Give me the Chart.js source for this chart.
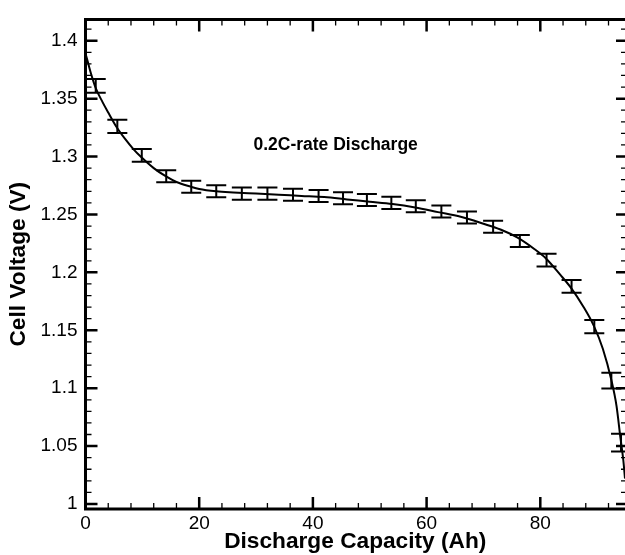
<!DOCTYPE html>
<html><head><meta charset="utf-8">
<script src="https://cdn.jsdelivr.net/npm/chart.js@4/dist/chart.umd.min.js"></script>
<style>html,body{margin:0;padding:0;background:#fff;overflow:hidden;}canvas{display:block;}</style>
</head><body>
<canvas id="c" width="625" height="555"></canvas>
<script>
// fitted discharge curve
const curveX = [0, 0.5, 1, 1.8, 3, 4, 5.4, 7, 8.5, 9.7, 12, 14.1, 16, 18.5, 20, 23, 26, 30, 34, 38, 42, 46, 50, 54, 58, 62, 66, 70, 73, 76, 79, 81, 83.5, 85.5, 87.5, 89.4, 91, 92.5, 93.4, 94.1, 94.6, 94.9];
const curveY = [1.389, 1.380, 1.371, 1.359, 1.347, 1.338, 1.326, 1.315, 1.306, 1.300, 1.290, 1.283, 1.278, 1.274, 1.272, 1.270, 1.269, 1.268, 1.267, 1.266, 1.265, 1.263, 1.261, 1.259, 1.256, 1.252, 1.248, 1.242, 1.237, 1.230, 1.220, 1.212, 1.198, 1.186, 1.171, 1.154, 1.134, 1.107, 1.085, 1.057, 1.038, 1.022];
// measured points with error bars
const barX = [1.8, 5.6, 9.9, 14.2, 18.6, 23.0, 27.5, 32.0, 36.5, 41.0, 45.3, 49.5, 53.8, 58.1, 62.6, 67.1, 71.7, 76.4, 81.1, 85.5, 89.5, 92.5, 94.2];
const barY = [1.361, 1.326, 1.301, 1.283, 1.274, 1.270, 1.268, 1.268, 1.267, 1.266, 1.264, 1.2625, 1.260, 1.257, 1.2526, 1.2474, 1.2394, 1.227, 1.2106, 1.188, 1.1531, 1.1066, 1.053];
const barErr = [0.006, 0.0057, 0.0055, 0.0052, 0.0052, 0.0052, 0.0052, 0.0052, 0.0052, 0.0052, 0.0052, 0.0052, 0.0052, 0.0052, 0.0052, 0.0052, 0.0052, 0.0052, 0.0055, 0.0055, 0.0057, 0.0068, 0.0077];
// axes
const xTickValues = [0, 20, 40, 60, 80];
const xTickLabels = ['0', '20', '40', '60', '80'];
const yTickValues = [1, 1.05, 1.1, 1.15, 1.2, 1.25, 1.3, 1.35, 1.4];
const yTickLabels = ['1', '1.05', '1.1', '1.15', '1.2', '1.25', '1.3', '1.35', '1.4'];
const xMinorTicks = [4, 8, 12, 16, 24, 28, 32, 36, 44, 48, 52, 56, 64, 68, 72, 76, 84, 88, 92];
const yMinorTicks = [1.01, 1.02, 1.03, 1.04, 1.06, 1.07, 1.08, 1.09, 1.11, 1.12, 1.13, 1.14, 1.16, 1.17, 1.18, 1.19, 1.21, 1.22, 1.23, 1.24, 1.26, 1.27, 1.28, 1.29, 1.31, 1.32, 1.33, 1.34, 1.36, 1.37, 1.38, 1.39, 1.41];
const xRange = [0, 94.9];
const yRange = [0.9957, 1.4184];
const annotation = {text: '0.2C-rate Discharge', x: 44, y: 1.31};
const FONT = "'Liberation Sans', Arial, Helvetica, sans-serif";

const framePlugin = {
  id: 'frame',
  afterDatasetsDraw(chart) {
    const ctx = chart.ctx, a = chart.chartArea;
    const xs = chart.scales.x, ys = chart.scales.y;
    ctx.save();
    ctx.strokeStyle = '#000';
    // error bars
    ctx.lineWidth = 2;
    const cap = 10;
    for (let i = 0; i < barX.length; i++) {
      const px = xs.getPixelForValue(barX[i]);
      const pt = ys.getPixelForValue(barY[i] + barErr[i]);
      const pb = ys.getPixelForValue(barY[i] - barErr[i]);
      ctx.beginPath();
      ctx.moveTo(px, pt); ctx.lineTo(px, pb);
      ctx.moveTo(px - cap, pt); ctx.lineTo(px + cap, pt);
      ctx.moveTo(px - cap, pb); ctx.lineTo(px + cap, pb);
      ctx.stroke();
    }
    // frame
    ctx.lineWidth = 3;
    ctx.beginPath();
    ctx.moveTo(a.left, a.bottom); ctx.lineTo(a.left, a.top); ctx.lineTo(a.right + 3, a.top);
    ctx.moveTo(a.left - 1.5, a.bottom); ctx.lineTo(a.right + 3, a.bottom);
    ctx.stroke();
    // major ticks
    ctx.lineWidth = 2.5;
    ctx.beginPath();
    xTickValues.forEach(v => {
      const p = xs.getPixelForValue(v);
      ctx.moveTo(p, a.bottom); ctx.lineTo(p, a.bottom - 12);
      ctx.moveTo(p, a.top); ctx.lineTo(p, a.top + 12);
    });
    yTickValues.forEach(v => {
      const p = ys.getPixelForValue(v);
      ctx.moveTo(a.left, p); ctx.lineTo(a.left + 12, p);
      ctx.moveTo(a.right, p); ctx.lineTo(a.right - 9, p);
    });
    ctx.stroke();
    // minor ticks
    ctx.lineWidth = 1.3;
    ctx.beginPath();
    xMinorTicks.forEach(v => {
      const p = xs.getPixelForValue(v);
      ctx.moveTo(p, a.bottom); ctx.lineTo(p, a.bottom - 6);
      ctx.moveTo(p, a.top); ctx.lineTo(p, a.top + 6);
    });
    yMinorTicks.forEach(v => {
      const p = ys.getPixelForValue(v);
      ctx.moveTo(a.left, p); ctx.lineTo(a.left + 6, p);
      ctx.moveTo(a.right, p); ctx.lineTo(a.right - 4, p);
    });
    ctx.stroke();
    // annotation
    ctx.fillStyle = '#000';
    ctx.font = 'bold 17.5px ' + FONT;
    ctx.textAlign = 'center';
    ctx.textBaseline = 'middle';
    ctx.fillText(annotation.text, xs.getPixelForValue(annotation.x), ys.getPixelForValue(annotation.y));
    ctx.restore();
  }
};

new Chart(document.getElementById('c'), {
  type: 'scatter',
  data: {
    datasets: [{
      type: 'line',
      data: curveX.map((x, i) => ({x, y: curveY[i]})),
      borderColor: '#000',
      borderWidth: 2,
      pointRadius: 0,
      fill: false,
      cubicInterpolationMode: 'monotone'
    }, {
      data: barX.map((x, i) => ({x, y: barY[i]})),
      pointRadius: 0,
      showLine: false
    }]
  },
  options: {
    responsive: false,
    animation: false,
    devicePixelRatio: 1,
    layout: {padding: {top: 12, right: 0, left: 0, bottom: 0}},
    plugins: {legend: {display: false}, tooltip: {enabled: false}},
    scales: {
      x: {
        type: 'linear', min: xRange[0], max: xRange[1],
        grid: {display: false, drawTicks: false},
        border: {display: false},
        afterBuildTicks: s => { s.ticks = xTickValues.map(v => ({value: v})); },
        afterFit: s => { s.height = 46; },
        ticks: {
          autoSkip: false, maxRotation: 0, padding: 3, color: '#000',
          font: {family: FONT, size: 19},
          callback: (v, i) => xTickLabels[i]
        },
        title: {display: true, text: 'Discharge Capacity (Ah)', color: '#000',
          font: {family: FONT, size: 22.7, weight: 'bold'}, padding: {top: 0, bottom: 0}}
      },
      y: {
        type: 'linear', min: yRange[0], max: yRange[1],
        grid: {display: false, drawTicks: false},
        border: {display: false},
        afterBuildTicks: s => { s.ticks = yTickValues.map(v => ({value: v})); },
        afterFit: s => { s.width = 85.5; },
        ticks: {
          autoSkip: false, padding: 8, color: '#000',
          font: {family: FONT, size: 19},
          callback: (v, i) => yTickLabels[i]
        },
        title: {display: true, text: 'Cell Voltage (V)', color: '#000',
          font: {family: FONT, size: 22.7, weight: 'bold'}, padding: {top: 5, bottom: 0}}
      }
    }
  },
  plugins: [framePlugin]
});
</script>
</body></html>
